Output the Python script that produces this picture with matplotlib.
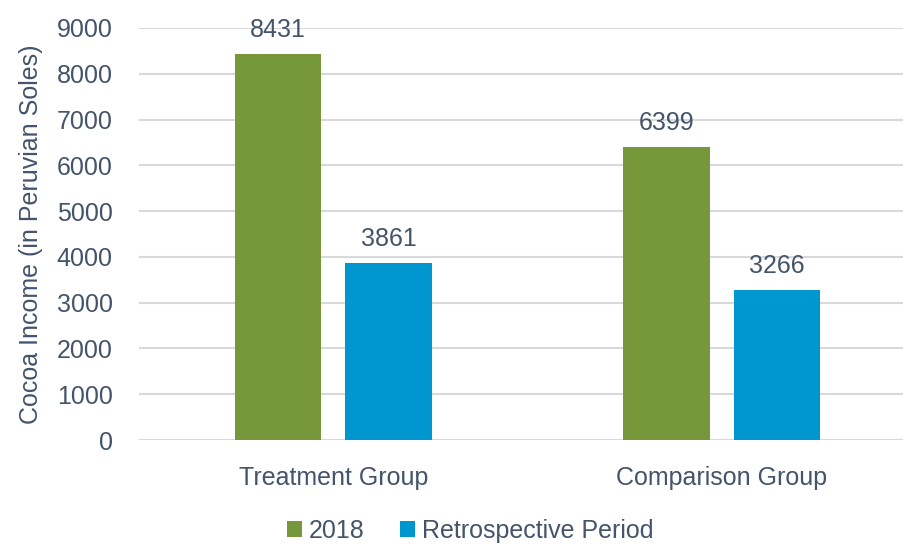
import numpy as np
import matplotlib.pyplot as plt
from matplotlib import font_manager

groups = ['Treatment Group', 'Comparison Group']
series = ['2018', 'Retrospective Period']
vals_2018 = [8431, 6399]
vals_retro = [3861, 3266]
yticks = [0, 1000, 2000, 3000, 4000, 5000, 6000, 7000, 8000, 9000]

names = {f.name for f in font_manager.fontManager.ttflist}
fam = 'Liberation Sans Narrow' if 'Liberation Sans Narrow' in names else 'Liberation Sans'
plt.rcParams['font.family'] = [fam, 'DejaVu Sans']
fs = 20 if fam == 'Liberation Sans Narrow' else 18

txt = '#44546A'
green = '#76983B'
blue = '#0096D0'

fig = plt.figure(figsize=(9.04, 5.48), dpi=100)
ax = fig.add_axes([0.154, 0.197, 0.846, 0.752])

x = np.arange(len(groups))
w = 0.222
b1 = ax.bar(x - 0.142, vals_2018, w, color=green, label=series[0], zorder=3)
b2 = ax.bar(x + 0.142, vals_retro, w, color=blue, label=series[1], zorder=3)

for bars in (b1, b2):
    for r in bars:
        ax.annotate(f'{int(r.get_height())}', (r.get_x() + r.get_width() / 2, r.get_height()),
                    xytext=(0, 9), textcoords='offset points', ha='center', va='bottom',
                    fontsize=fs, color=txt)

ax.set_ylim(0, 9000)
ax.set_xlim(-0.5, 1.47)
ax.set_yticks(yticks)
ax.set_xticks(x)
ax.set_xticklabels(groups)
ax.yaxis.grid(True, color='#D9D9D9', linewidth=1.5, zorder=0)
ax.set_axisbelow(True)
for s in ['top', 'right', 'left', 'bottom']:
    ax.spines[s].set_visible(False)
ax.tick_params(axis='y', length=0, pad=19, labelsize=fs, labelcolor=txt)
ax.tick_params(axis='x', length=0, pad=19, labelsize=fs, labelcolor=txt)
ax.set_ylabel('Cocoa Income (in Peruvian Soles)', fontsize=fs, color=txt, labelpad=10)

ax.legend(loc='center', bbox_to_anchor=(0.433, -0.22), ncol=2, frameon=False,
          fontsize=fs, labelcolor=txt, handlelength=0.6, handleheight=0.6,
          handletextpad=0.3, columnspacing=1.4, borderpad=0.2)

fig.savefig('out.png', dpi=100)
